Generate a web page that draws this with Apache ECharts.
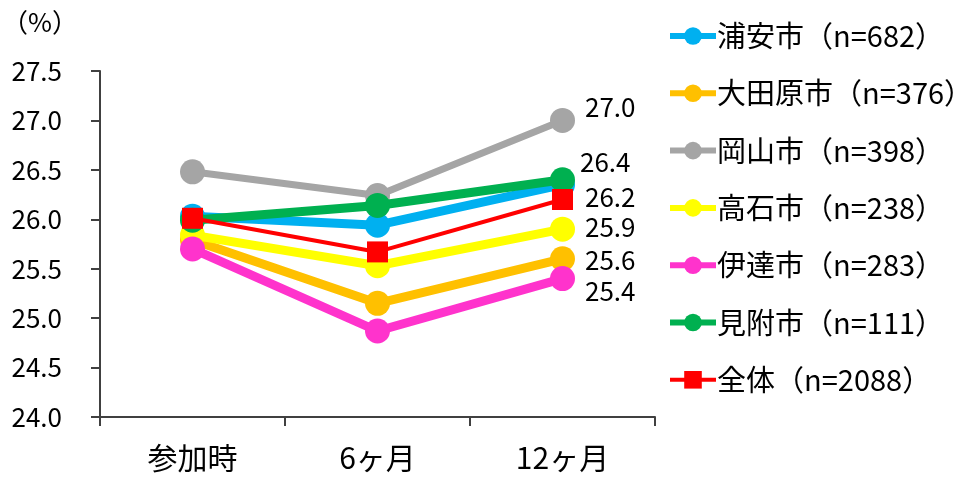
<!DOCTYPE html>
<html>
<head>
<meta charset="utf-8">
<script src="https://cdn.jsdelivr.net/npm/echarts@6/dist/echarts.min.js"></script>
<style>
  html, body { margin: 0; padding: 0; background: #fff; }
  #chart { width: 960px; height: 477px; }
</style>
</head>
<body>
<div id="chart"></div>
<script>
// Categories (measurement timing)
const categories = ['参加時', '6ヶ月', '12ヶ月'];

// Y axis range / ticks
const yMin = 24.0;
const yMax = 27.5;
const yStep = 0.5;

// Series names
const seriesNames = [
  '浦安市（n=682）',
  '大田原市（n=376）',
  '岡山市（n=398）',
  '高石市（n=238）',
  '伊達市（n=283）',
  '見附市（n=111）',
  '全体（n=2088）'
];

// Series values (%)
const urayasu   = [26.03, 25.94, 26.35];
const otawara   = [25.79, 25.15, 25.6];
const okayama   = [26.48, 26.24, 27.0];
const takaishi  = [25.84, 25.53, 25.9];
const date      = [25.70, 24.87, 25.4];
const mitsuke   = [25.99, 26.14, 26.4];
const zentai    = [26.01, 25.67, 26.2];

const FONT = '"Noto Sans CJK JP", "Noto Sans", sans-serif';

// Style per series: colour, line width, symbol, end-label offset
const styles = [
  { data: urayasu,  color: '#00B0F0', width: 9, legendWidth: 6, symbol: 'circle', size: 25, label: null },
  { data: otawara,  color: '#FFC000', width: 9, legendWidth: 6, symbol: 'circle', size: 25, label: [5, 1] },
  { data: okayama,  color: '#A5A5A5', width: 7, legendWidth: 6, symbol: 'circle', size: 25, label: [5, -13] },
  { data: takaishi, color: '#FFFF00', width: 9, legendWidth: 6, symbol: 'circle', size: 25, label: [5, -2] },
  { data: date,     color: '#FF33CC', width: 9, legendWidth: 6, symbol: 'circle', size: 25, label: [5, 13] },
  { data: mitsuke,  color: '#00B050', width: 9, legendWidth: 6, symbol: 'circle', size: 25, label: [0, -18] },
  { data: zentai,   color: '#FF0000', width: 4, legendWidth: 4, symbol: 'rect',   size: 21, label: [7, -2] }
];

const series = styles.map((s, i) => ({
  name: seriesNames[i],
  type: 'line',
  data: s.data.map((v, j) => {
    const item = { value: v };
    if (s.label && j === s.data.length - 1) {
      item.label = {
        show: true,
        position: 'right',
        offset: s.label,
        formatter: (p) => p.value.toFixed(1),
        color: '#000',
        fontSize: 26,
        fontFamily: FONT
      };
    }
    return item;
  }),
  color: s.color,
  symbol: s.symbol,
  symbolSize: s.size,
  showAllSymbol: true,
  lineStyle: { width: s.width, color: s.color },
  itemStyle: { color: s.color },
  z: 2 + i,
  animation: false,
  emphasis: { disabled: true }
}));

const chart = echarts.init(document.getElementById('chart'));
chart.setOption({
  animation: false,
  grid: { left: 100, right: 305, top: 71, bottom: 60, containLabel: false },
  xAxis: {
    type: 'category',
    data: categories,
    boundaryGap: true,
    axisLine: { lineStyle: { color: '#404040', width: 2 } },
    axisTick: { show: true, length: 9, lineStyle: { color: '#404040', width: 2 } },
    axisLabel: { color: '#000', fontSize: 30, fontFamily: FONT, margin: 26 }
  },
  yAxis: {
    type: 'value',
    min: yMin,
    max: yMax,
    interval: yStep,
    splitLine: { show: false },
    axisLine: { show: true, lineStyle: { color: '#404040', width: 2 } },
    axisTick: { show: true, length: 9, lineStyle: { color: '#404040', width: 2 } },
    axisLabel: {
      color: '#000', fontSize: 26, fontFamily: FONT, margin: 38,
      formatter: (v) => v.toFixed(1)
    }
  },
  legend: {
    orient: 'vertical',
    left: 667,
    top: 21,
    padding: 0,
    itemWidth: 46,
    itemHeight: 22,
    itemGap: 27.3,
    textStyle: { color: '#000', fontSize: 29, fontFamily: FONT, lineHeight: 30, padding: [0, 0, 0, -4] },
    data: seriesNames.map((n, i) => ({
      name: n,
      lineStyle: { width: styles[i].legendWidth, color: styles[i].color }
    }))
  },
  graphic: [{
    type: 'text',
    left: 2,
    top: 9,
    style: { text: '（%）', fontSize: 26, fontFamily: FONT, fill: '#000' }
  }],
  series: series
});
</script>
</body>
</html>
